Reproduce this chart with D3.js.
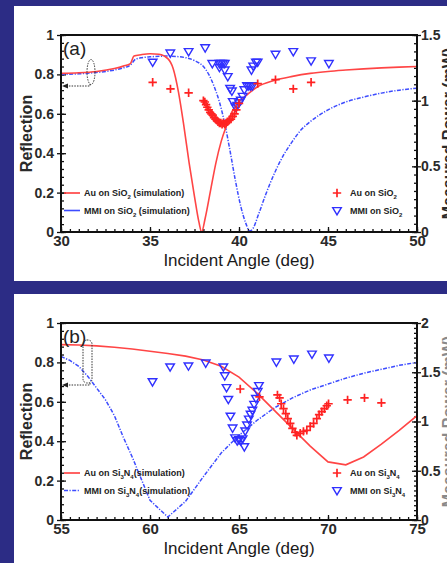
<!DOCTYPE html>
<html>
<meta charset="utf-8">
<style>
body {
  margin: 0;
  background-color: #2c2c85;
}
svg {
  display: block;
  font-family: "Liberation Sans", Arial, sans-serif;
}
.tick line {
  stroke: #111;
  stroke-width: 1.3px;
}
.tick text {
  fill: #2a2a2a;
  font-weight: bold;
}
.frame {
  fill: none;
  stroke: #111;
  stroke-width: 2px;
}
.sim-au {
  fill: none;
  stroke: #ff4545;
  stroke-width: 1.6px;
}
.sim-mmi {
  fill: none;
  stroke: #3d4cff;
  stroke-width: 1.5px;
  stroke-dasharray: 4,1.5,1.2,1.5;
}
.meas-au {
  fill: none;
  stroke: #ff2222;
  stroke-width: 1.7px;
}
.meas-mmi {
  fill: none;
  stroke: #3030ff;
  stroke-width: 1.4px;
}
.legend text {
  font-size: 9px;
  font-weight: bold;
  fill: #222;
}
.hint {
  fill: none;
  stroke: #333;
  stroke-width: 1px;
  stroke-dasharray: 1.5,1.2;
}
</style>
<body>
<script src="https://d3js.org/d3.v7.min.js"></script>
<script>

// ---------- panel (a) : SiO2 ----------
var reflTicks = [0, 0.2, 0.4, 0.6, 0.8, 1];

var anglesA = [30, 35, 40, 45, 50];
var powerTicksA = [0, 0.5, 1, 1.5];

// simulated reflection, Au on SiO2
var auSimA_angle = [30, 31, 32, 33, 33.5, 33.9, 34.1, 34.5, 35, 35.5, 36, 36.3, 36.6, 36.9, 37.2, 37.5, 37.75, 37.9,
                    38.1, 38.4, 38.7, 39.0, 39.3, 39.6, 40.0, 40.5, 41, 42, 43, 44, 45, 46, 47, 48, 49, 50];
var auSimA_refl  = [0.805, 0.808, 0.815, 0.83, 0.842, 0.855, 0.893, 0.9, 0.905, 0.902, 0.88, 0.83, 0.71, 0.54, 0.35, 0.18, 0.05, 0.0,
                    0.07, 0.21, 0.35, 0.46, 0.54, 0.61, 0.66, 0.70, 0.735, 0.77, 0.79, 0.805, 0.815, 0.822, 0.828, 0.833, 0.837, 0.84];

// simulated reflection, MMI on SiO2
var mmiSimA_angle = [30, 31, 32, 33, 33.5, 33.9, 34.2, 34.5, 35, 36, 37, 37.5, 38, 38.3, 38.6, 38.9, 39.2, 39.5, 39.8, 40.1,
                     40.4, 40.6, 40.8, 41.1, 41.5, 42, 42.5, 43, 43.5, 44, 45, 46, 47, 48, 49, 50];
var mmiSimA_refl  = [0.80, 0.803, 0.81, 0.822, 0.833, 0.848, 0.878, 0.884, 0.889, 0.893, 0.885, 0.87, 0.84, 0.80, 0.74, 0.66, 0.55, 0.41, 0.26, 0.13,
                     0.04, 0.005, 0.02, 0.09, 0.19, 0.30, 0.39, 0.46, 0.52, 0.56, 0.62, 0.66, 0.685, 0.705, 0.72, 0.73];

// measured power (mW), Au on SiO2
var auMeasA_angle = [35.15, 36.15, 37.17, 38.0, 38.08, 38.15, 38.22, 38.3, 38.38, 38.45, 38.52, 38.6, 38.68, 38.75, 38.82, 38.9,
                     38.98, 39.05, 39.12, 39.2, 39.28, 39.35, 39.45, 39.55, 39.65, 39.75, 39.85, 40.0, 41.05, 42.05, 43.05, 44.05];
var auMeasA_power = [1.14, 1.09, 1.06, 1.0, 0.99, 0.97, 0.95, 0.93, 0.91, 0.90, 0.89, 0.87, 0.86, 0.85, 0.84, 0.83,
                     0.83, 0.82, 0.83, 0.82, 0.83, 0.84, 0.85, 0.86, 0.88, 0.90, 0.93, 0.98, 1.13, 1.16, 1.09, 1.14];

// measured power (mW), MMI on SiO2
var mmiMeasA_angle = [35.15, 36.14, 37.17, 38.1, 38.5, 38.9, 39.0, 39.1, 39.2, 38.9, 39.2, 39.37, 39.5, 39.6, 39.65, 39.8, 39.9,
                      40.0, 40.1, 40.2, 40.3, 40.45, 40.55, 40.65, 40.75, 40.7, 40.8, 40.95, 41.05, 42.05, 43.05, 44.05, 45.05];
var mmiMeasA_power = [1.29, 1.36, 1.37, 1.40, 1.28, 1.28, 1.28, 1.28, 1.28, 1.25, 1.23, 1.18, 1.09, 1.07, 0.99, 0.95, 0.96,
                      0.98, 1.0, 1.03, 1.08, 1.11, 1.11, 1.11, 1.11, 1.23, 1.26, 1.29, 1.29, 1.35, 1.37, 1.30, 1.28];

// ---------- panel (b) : Si3N4 ----------
var anglesB = [55, 60, 65, 70, 75];
var powerTicksB = [0, 0.5, 1, 1.5, 2];

var auSimB_angle = [55, 56, 57, 58, 59, 60, 61, 62, 63, 64, 65, 66, 67, 68, 69, 70, 71, 72, 73, 74, 75];
var auSimB_refl  = [0.89, 0.888, 0.884, 0.877, 0.868, 0.857, 0.845, 0.832, 0.812, 0.78, 0.725, 0.645, 0.555, 0.465, 0.375, 0.295, 0.28, 0.32, 0.385, 0.455, 0.53];

var mmiSimB_angle = [55, 55.5, 56, 56.5, 57, 57.5, 58, 58.5, 59, 59.5, 60, 61, 62, 63, 64, 65, 66, 67, 68, 69, 70, 71, 72, 73, 74, 75];
var mmiSimB_refl  = [0.83, 0.81, 0.78, 0.73, 0.67, 0.61, 0.53, 0.42, 0.32, 0.21, 0.10, 0.015, 0.095, 0.22, 0.34, 0.43, 0.505, 0.57, 0.62, 0.66, 0.69, 0.72, 0.745, 0.765, 0.785, 0.80];

var auMeasB_angle = [65.07, 66.15, 67.16, 67.28, 67.37, 67.5, 67.63, 67.74, 67.88, 68.0, 68.16, 68.25, 68.44, 68.62, 68.81,
                     69.0, 69.19, 69.37, 69.5, 69.65, 69.8, 69.93, 70.03, 71.1, 72.05, 73.0];
var auMeasB_power = [1.33, 1.25, 1.27, 1.24, 1.18, 1.13, 1.08, 1.03, 0.98, 0.93, 0.89, 0.86, 0.88, 0.90, 0.91,
                     0.95, 0.98, 1.03, 1.07, 1.10, 1.13, 1.16, 1.18, 1.22, 1.24, 1.19];

var mmiMeasB_angle = [60.14, 61.13, 62.16, 63.13, 64.12, 64.2, 64.3, 64.4, 64.52, 64.64, 64.78, 64.9, 65.0, 65.1, 65.2, 65.3,
                      65.35, 65.45, 65.55, 65.65, 65.75, 65.85, 65.95, 66.05, 66.12, 67.1, 68.08, 69.1, 70.05];
var mmiMeasB_power = [1.40, 1.55, 1.56, 1.59, 1.55, 1.46, 1.34, 1.22, 1.05, 0.93, 0.83, 0.80, 0.81, 0.80, 0.82, 0.74,
                      0.90, 0.96, 1.02, 1.07, 1.11, 1.17, 1.23, 1.30, 1.36, 1.60, 1.63, 1.68, 1.64];

var W = 447, H = 563;

var svg = d3.select("body")
    .append("svg")
    .attr("width", W)
    .attr("height", H);

svg.append("rect")
    .attr("width", W)
    .attr("height", H)
    .attr("fill", "#2c2c85");

function zip(a, b) {
  return a.map(function(v, i) { return [v, b[i]]; });
}

// text with sub-scripted parts: [["Au on SiO"], ["2", true], ...]
function richText(sel, parts) {
  parts.forEach(function(p) {
    var t = sel.append("tspan").text(p[0]);
    if (p[1]) t.attr("baseline-shift", "sub").style("font-size", "6px");
  });
}

function drawPanel(p) {
  var g = svg.append("g");

  g.append("rect")
      .attr("x", p.box[0]).attr("y", p.box[1])
      .attr("width", p.box[2]).attr("height", p.box[3])
      .attr("fill", "#fff");

  var x = d3.scaleLinear().domain(p.xDomain).range([p.left, p.right]);
  var yL = d3.scaleLinear().domain([0, 1]).range([p.bottom, p.top]);
  var yR = d3.scaleLinear().domain([0, p.rightTicks[p.rightTicks.length - 1]]).range([p.bottom, p.top]);

  function clean(s) { s.select(".domain").remove(); }

  // left axis: minor inward, major both ways with labels
  g.append("g").attr("transform", "translate(" + p.left + ",0)")
      .call(d3.axisRight(yL).tickValues(d3.range(0, 1.001, 0.04)).tickSize(3).tickFormat("")).call(clean);
  g.append("g").attr("transform", "translate(" + p.left + ",0)")
      .call(d3.axisRight(yL).tickValues(reflTicks).tickSize(5).tickFormat("")).call(clean);
  g.append("g").attr("transform", "translate(" + p.left + ",0)")
      .call(d3.axisLeft(yL).tickValues(reflTicks).tickSize(4).tickPadding(3).tickFormat(d3.format("")))
      .call(clean)
      .selectAll("text").style("font-size", "14px");

  // right axis
  var rStep = p.rightTicks[1] / p.rightMinor;
  g.append("g").attr("transform", "translate(" + p.right + ",0)")
      .call(d3.axisLeft(yR).tickValues(d3.range(0, yR.domain()[1] + 0.001, rStep)).tickSize(3).tickFormat("")).call(clean);
  g.append("g").attr("transform", "translate(" + p.right + ",0)")
      .call(d3.axisLeft(yR).tickValues(p.rightTicks).tickSize(5).tickFormat("")).call(clean);
  g.append("g").attr("transform", "translate(" + p.right + ",0)")
      .call(d3.axisRight(yR).tickValues(p.rightTicks).tickSize(4).tickPadding(0).tickFormat(d3.format("")))
      .call(clean)
      .selectAll("text").style("font-size", "14px");

  // bottom axis: ticks point inward
  g.append("g").attr("transform", "translate(0," + p.bottom + ")")
      .call(d3.axisTop(x).tickValues(d3.range(p.xDomain[0], p.xDomain[1] + 0.01, 0.5)).tickSize(3).tickFormat("")).call(clean);
  g.append("g").attr("transform", "translate(0," + p.bottom + ")")
      .call(d3.axisTop(x).tickValues(p.xTicks).tickSize(5).tickFormat("")).call(clean);
  g.append("g").attr("transform", "translate(0," + p.bottom + ")")
      .call(d3.axisBottom(x).tickValues(p.xTicks).tickSize(0).tickPadding(3).tickFormat(d3.format("")))
      .call(clean)
      .selectAll("text").style("font-size", "15px");

  // curves and markers
  var clipId = "clip-" + p.name;
  g.append("clipPath").attr("id", clipId)
    .append("rect")
      .attr("x", p.left).attr("y", p.top)
      .attr("width", p.right - p.left).attr("height", p.bottom - p.top);

  var plot = g.append("g").attr("clip-path", "url(#" + clipId + ")");

  var line = d3.line()
      .x(function(d) { return x(d[0]); })
      .y(function(d) { return yL(d[1]); })
      .curve(p.curve);

  plot.append("path").datum(zip(p.mmiSim[0], p.mmiSim[1])).attr("class", "sim-mmi").attr("d", line);
  plot.append("path").datum(zip(p.auSim[0], p.auSim[1])).attr("class", "sim-au").attr("d", line);

  var tri = "M-4.3,-3.4L4.3,-3.4L0,3.9Z";
  var plus = "M-4.2,0H4.2M0,-4.2V4.2";

  plot.selectAll(".meas-mmi")
      .data(zip(p.mmiMeas[0], p.mmiMeas[1]))
      .enter().append("path")
      .attr("class", "meas-mmi")
      .attr("d", tri)
      .attr("transform", function(d) { return "translate(" + x(d[0]) + "," + yR(d[1]) + ")"; });

  plot.selectAll(".meas-au")
      .data(zip(p.auMeas[0], p.auMeas[1]))
      .enter().append("path")
      .attr("class", "meas-au")
      .attr("d", plus)
      .attr("transform", function(d) { return "translate(" + x(d[0]) + "," + yR(d[1]) + ")"; });

  // frame
  g.append("rect")
      .attr("class", "frame")
      .attr("x", p.left).attr("y", p.top)
      .attr("width", p.right - p.left).attr("height", p.bottom - p.top);

  // axis titles
  g.append("text")
      .attr("transform", "translate(32," + (p.top + p.bottom) / 2 + ") rotate(-90)")
      .attr("text-anchor", "middle")
      .style("font-size", "16px").style("font-weight", "bold").style("fill", "#2a2a2a")
      .text("Reflection");

  g.append("text")
      .attr("transform", "translate(454," + (p.top + p.bottom) / 2 + ") rotate(-90)")
      .attr("text-anchor", "middle")
      .style("font-size", "16px").style("font-weight", "bold").style("fill", p.rightTitleColor)
      .text("Measured Power (mW)");

  g.append("text")
      .attr("x", (p.left + p.right) / 2)
      .attr("y", p.bottom + 34)
      .attr("text-anchor", "middle")
      .style("font-size", "17px").style("fill", "#1a1a1a")
      .text("Incident Angle (deg)");

  g.append("text")
      .attr("x", p.left + 2)
      .attr("y", p.top + 20)
      .style("font-size", "19px").style("fill", "#222")
      .text(p.name === "a" ? "(a)" : "(b)");

  // dotted marker pointing to left axis
  if (p.name === "a") {
    g.append("ellipse").attr("class", "hint")
        .attr("cx", 91).attr("cy", p.top + 37).attr("rx", 4).attr("ry", 12.5);
  } else {
    g.append("rect").attr("class", "hint")
        .attr("x", 83).attr("y", p.top + 17).attr("width", 9).attr("height", 43).attr("rx", 4);
  }
  var ay = p.top + p.arrowDy;
  g.append("path").attr("class", "hint")
      .attr("d", "M90," + (ay - 2) + "V" + ay + "H67");
  g.append("path")
      .attr("d", "M62," + ay + "l6,-2.5v5z")
      .attr("fill", "#222");

  // legends
  var lg = g.append("g").attr("class", "legend");
  var ly1 = p.top + p.legendDy, ly2 = ly1 + 17.5;
  lg.append("line").attr("x1", 64).attr("x2", 80).attr("y1", ly1).attr("y2", ly1)
      .attr("stroke", "#ff3b3b").attr("stroke-width", 1.6);
  lg.append("line").attr("x1", 64).attr("x2", 80).attr("y1", ly2).attr("y2", ly2)
      .attr("stroke", "#3d4cff").attr("stroke-width", 1.6)
      .attr("stroke-dasharray", p.name === "a" ? null : "4,1.5,1.2,1.5");
  richText(lg.append("text").attr("x", 84).attr("y", ly1 + 3), p.legendSim[0]);
  richText(lg.append("text").attr("x", 84).attr("y", ly2 + 3), p.legendSim[1]);

  lg.append("path").attr("class", "meas-au").attr("d", plus)
      .attr("transform", "translate(337," + ly1 + ")");
  lg.append("path").attr("class", "meas-mmi").attr("d", tri)
      .attr("transform", "translate(337," + (ly2 + 0.5) + ")");
  richText(lg.append("text").attr("x", 350).attr("y", ly1 + 3), p.legendMeas[0]);
  richText(lg.append("text").attr("x", 350).attr("y", ly2 + 3), p.legendMeas[1]);
}

drawPanel({
  name: "a",
  box: [14, 6, 440, 275],
  left: 61, right: 417, top: 35, bottom: 232,
  xDomain: [30, 50], xTicks: anglesA,
  rightTicks: powerTicksA, rightMinor: 8,
  rightTitleColor: "#2a2a2a",
  curve: d3.curveMonotoneX,
  auSim: [auSimA_angle, auSimA_refl],
  mmiSim: [mmiSimA_angle, mmiSimA_refl],
  auMeas: [auMeasA_angle, auMeasA_power],
  mmiMeas: [mmiMeasA_angle, mmiMeasA_power],
  arrowDy: 51,
  legendDy: 158,
  legendSim: [[["Au on SiO"], ["2", true], [" (simulation)"]],
              [["MMI on SiO"], ["2", true], [" (simulation)"]]],
  legendMeas: [[["Au on SiO"], ["2", true]],
               [["MMI on SiO"], ["2", true]]]
});

drawPanel({
  name: "b",
  box: [14, 294, 440, 275],
  left: 61, right: 417, top: 323, bottom: 520,
  xDomain: [55, 75], xTicks: anglesB,
  rightTicks: powerTicksB, rightMinor: 10,
  rightTitleColor: "#8a8a8a",
  curve: d3.curveLinear,
  auSim: [auSimB_angle, auSimB_refl],
  mmiSim: [mmiSimB_angle, mmiSimB_refl],
  auMeas: [auMeasB_angle, auMeasB_power],
  mmiMeas: [mmiMeasB_angle, mmiMeasB_power],
  arrowDy: 62,
  legendDy: 150,
  legendSim: [[["Au on Si"], ["3", true], ["N"], ["4", true], ["(simulation)"]],
              [["MMI on Si"], ["3", true], ["N"], ["4", true], ["(simulation)"]]],
  legendMeas: [[["Au on Si"], ["3", true], ["N"], ["4", true]],
               [["MMI on Si"], ["3", true], ["N"], ["4", true]]]
});

</script>
</body>
</html>
